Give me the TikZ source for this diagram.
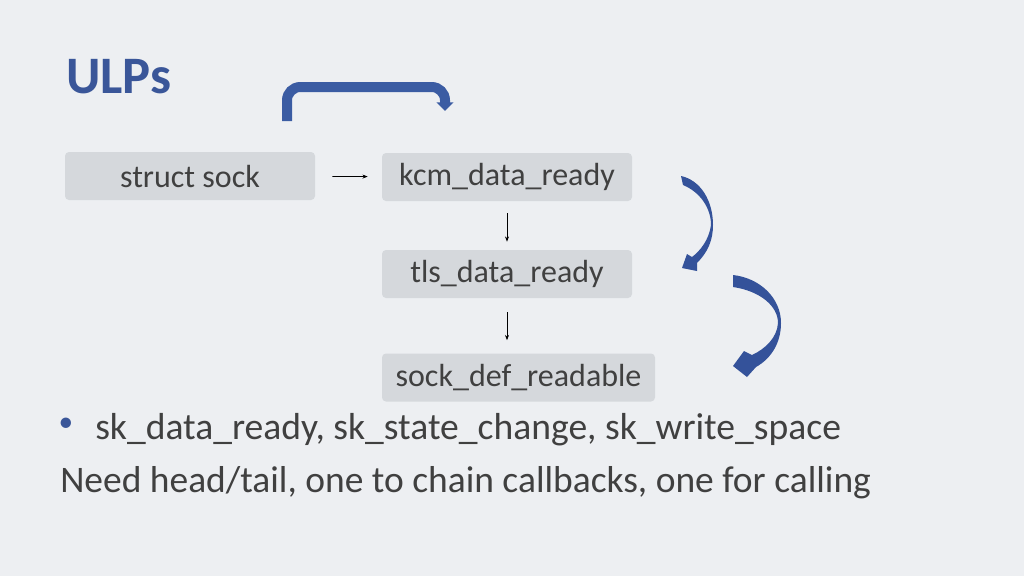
\documentclass[tikz,border=0pt]{standalone}
\usepackage{fontspec}
\setmainfont{Carlito}
\usepackage{xcolor}
\definecolor{slidebg}{HTML}{EDEFF2}
\definecolor{boxgray}{HTML}{D5D8DC}
\definecolor{textgray}{HTML}{404040}
\definecolor{titleblue}{HTML}{3A5699}
\definecolor{arrowblue}{HTML}{3B5CA3}
\definecolor{curveblue}{HTML}{34529A}
\usetikzlibrary{positioning,arrows.meta,calc}

\begin{document}
\begin{tikzpicture}[x=0.75pt, y=-0.75pt,
    fnbox/.style={fill=boxgray, rounded corners=3pt, minimum height=36pt, inner sep=0pt,
      text=textgray, font=\fontsize{24}{28}\selectfont},
    call/.style={-{Stealth[length=4pt,width=3pt]}, line width=0.6pt}]
			\fill[slidebg] (0,0) rectangle (1024,576);
			\node[anchor=base west, text=titleblue, font=\fontsize{39.5}{44}\selectfont\bfseries, inner sep=0pt] (title) at (66,93) {ULPs};
			% call chain
			\node[fnbox, minimum width=187.5pt] (sock) at (190,176) {struct sock};
			\node[fnbox, minimum width=187.5pt] (kcm) at (507,177) {kcm\_data\_ready};
			\node[fnbox, minimum width=187.5pt] (tls) at (507,274) {tls\_data\_ready};
			\node[fnbox, minimum width=204.75pt] (sockdef) at (518.5,377.5) {sock\_def\_readable};
			\draw[call, shorten <=12.75pt, shorten >=10.5pt] (sock) -- (kcm);
			\draw[call, shorten <=9pt, shorten >=6pt] (kcm) -- (tls);
			\draw[call, shorten <=10.5pt, shorten >=9.75pt] (tls) -- (kcm |- sockdef.north);
			% bent arrow over the boxes
			\coordinate (hookfrom) at (287,121);
			\coordinate (hookto) at (445,111);
			\draw[arrowblue, line width=7.5pt, rounded corners=10pt, -{Triangle[width=12.5pt,length=6.5pt]}]
				(hookfrom) -- (287,87) -- (445,87) -- (hookto);
			% curved arrows
			\fill[curveblue] (681,176) -- (683,185)
				.. controls (700,192) and (711,208) .. (711,225)
				.. controls (709,240) and (700,251) .. (692,257)
				-- (687,254) -- (682,268) -- (697,271) -- (697,263)
				.. controls (708,252) and (713,240) .. (713,225)
				.. controls (713,200) and (700,180) .. (681,176) -- cycle;
			\fill[curveblue] (733,275) -- (733,287)
				.. controls (760,291) and (778,306) .. (778,323)
				.. controls (777,338) and (765,349) .. (752,355)
				-- (744,351) -- (733,366) -- (747,377) -- (756,367)
				.. controls (772,358) and (781,342) .. (781,323)
				.. controls (781,298) and (760,278) .. (733,275) -- cycle;
			% text lines
			\node[text=titleblue, font=\fontsize{22}{26}\selectfont] (dot) at (66,425) {\textbullet};
			\node[anchor=base west, inner sep=0pt, text=textgray, font=\fontsize{28.2}{34}\selectfont] (cbs) at (95,439) {sk\_data\_ready, sk\_state\_change, sk\_write\_space};
			\node[anchor=base west, inner sep=0pt, text=textgray, font=\fontsize{28.1}{34}\selectfont] (need) at (60,492) {Need head/tail, one to chain callbacks, one for calling};
		\end{tikzpicture}
\end{document}
